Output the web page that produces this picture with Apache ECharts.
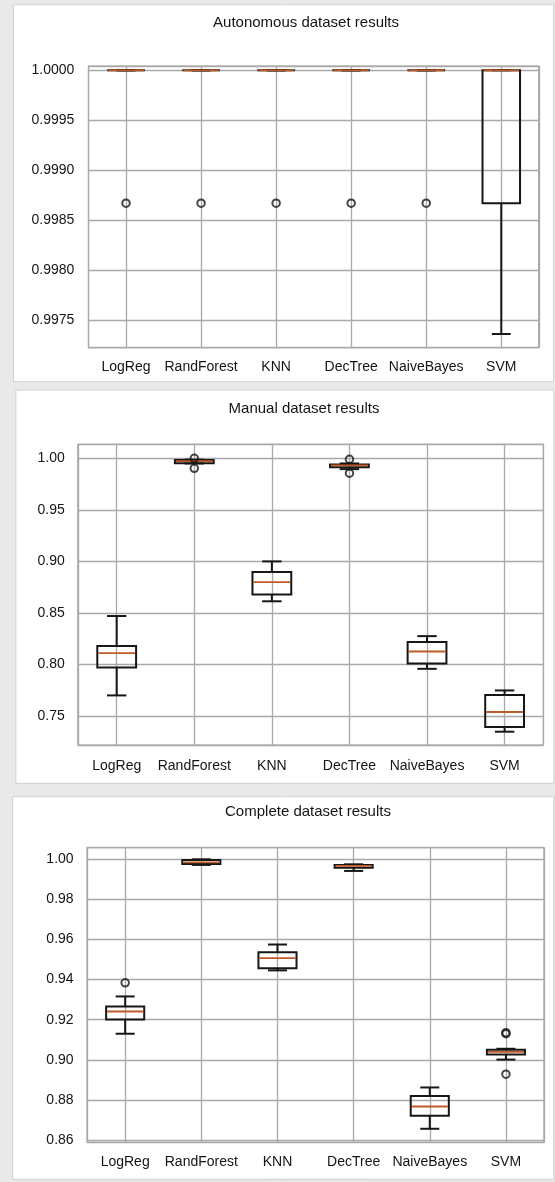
<!DOCTYPE html>
<html>
<head>
<meta charset="utf-8">
<script src="https://cdn.jsdelivr.net/npm/echarts@6/dist/echarts.min.js"></script>
<style>
  html, body { margin: 0; padding: 0; background: #e9e9e9; }
  #chart { width: 555px; height: 1182px; }
</style>
</head>
<body>
<div id="chart"></div>
<script>
// ---- data ----
const categories = ['LogReg', 'RandForest', 'KNN', 'DecTree', 'NaiveBayes', 'SVM'];
const panelTitles = ['Autonomous dataset results', 'Manual dataset results', 'Complete dataset results'];

// each box: [lower whisker, Q1, median, Q3, upper whisker]
const autonomousBoxes = [
  [1.0, 1.0, 1.0, 1.0, 1.0],
  [1.0, 1.0, 1.0, 1.0, 1.0],
  [1.0, 1.0, 1.0, 1.0, 1.0],
  [1.0, 1.0, 1.0, 1.0, 1.0],
  [1.0, 1.0, 1.0, 1.0, 1.0],
  [0.99736, 0.99867, 1.0, 1.0, 1.0]
];
const autonomousOutliers = [[0, 0.99867], [1, 0.99867], [2, 0.99867], [3, 0.99867], [4, 0.99867]];

const manualBoxes = [
  [0.770, 0.797, 0.811, 0.818, 0.847],
  [0.9950, 0.9953, 0.9972, 0.9983, 0.9987],
  [0.8613, 0.8680, 0.8799, 0.8896, 0.9000],
  [0.9895, 0.9912, 0.9932, 0.9940, 0.9950],
  [0.7958, 0.8010, 0.8126, 0.8217, 0.8275],
  [0.7348, 0.7393, 0.7539, 0.7704, 0.7748]
];
const manualOutliers = [[1, 1.0], [1, 0.9903], [3, 0.999], [3, 0.9855]];

const completeBoxes = [
  [0.9130, 0.9201, 0.9241, 0.9266, 0.9316],
  [0.9972, 0.9977, 0.9985, 0.9997, 1.0],
  [0.9446, 0.9456, 0.9507, 0.9537, 0.9575],
  [0.9942, 0.9958, 0.9967, 0.9972, 0.9975],
  [0.8656, 0.8721, 0.8767, 0.8820, 0.8862],
  [0.9001, 0.9026, 0.9040, 0.9050, 0.9055]
];
const completeOutliers = [[0, 0.9384], [5, 0.9135], [5, 0.9130], [5, 0.8928]];

// axis ranges and tick steps
const yRanges = [[0.997223, 1.000043], [0.7219, 1.01358], [0.85885, 1.00579]];
const yTickSteps = [0.0005, 0.05, 0.02];
const yDecimals = [4, 2, 2];

// ---- layout ----
const cards = [
  { x: 13.5, y: 4.7, w: 540, h: 377 },
  { x: 15.9, y: 390, w: 538, h: 393.3 },
  { x: 12.7, y: 796.7, w: 541, h: 382.6 }
];
const grids = [
  { left: 88.5, top: 66, width: 450.3, height: 281.7 },
  { left: 77.9, top: 444.3, width: 465.5, height: 300.7 },
  { left: 87.1, top: 847.7, width: 456.9, height: 294.6 }
];
const titlePos = [[306, 23.3], [304, 409], [308, 812.3]];
const xLabelMargin = [12, 14, 12.5];
const yLabelMargin = [14.2, 13.1, 13.5];

const FONT = '"Liberation Sans", Arial, sans-serif';
const TEXT = '#141414';
const GRIDC = '#a9a9a9';
const BOXC = '#161616';
const MEDC = '#c05a26';

const allBoxes = [autonomousBoxes, manualBoxes, completeBoxes];
const allOutliers = [autonomousOutliers, manualOutliers, completeOutliers];

function renderBox(params, api) {
  const i = api.value(0);
  const lo = api.coord([i, api.value(1)]);
  const q1 = api.coord([i, api.value(2)]);
  const md = api.coord([i, api.value(3)]);
  const q3 = api.coord([i, api.value(4)]);
  const hi = api.coord([i, api.value(5)]);
  const w = api.size([1, 0])[0] * 0.5;
  const cx = lo[0];
  const ls = { stroke: BOXC, lineWidth: 2, fill: null };
  return {
    type: 'group',
    children: [
      { type: 'line', shape: { x1: cx, y1: q3[1], x2: cx, y2: hi[1] }, style: ls },
      { type: 'line', shape: { x1: cx, y1: q1[1], x2: cx, y2: lo[1] }, style: ls },
      { type: 'line', shape: { x1: cx - w / 4, y1: hi[1], x2: cx + w / 4, y2: hi[1] }, style: ls },
      { type: 'line', shape: { x1: cx - w / 4, y1: lo[1], x2: cx + w / 4, y2: lo[1] }, style: ls },
      { type: 'rect', shape: { x: cx - w / 2, y: q3[1], width: w, height: q1[1] - q3[1] }, style: ls },
      { type: 'line', shape: { x1: cx - w / 2 + 1, y1: md[1], x2: cx + w / 2 - 1, y2: md[1] }, style: { stroke: MEDC, lineWidth: 1.8 } }
    ]
  };
}

const option = {
  animation: false,
  backgroundColor: '#e9e9e9',
  graphic: [],
  grid: [],
  xAxis: [],
  yAxis: [],
  series: []
};

cards.forEach(c => {
  option.graphic.push({
    type: 'rect', z: -10, silent: true,
    shape: { x: c.x, y: c.y, width: c.w, height: c.h },
    style: { fill: '#ffffff', stroke: '#d0d0d0', lineWidth: 1 }
  });
});
panelTitles.forEach((t, k) => {
  option.graphic.push({
    type: 'text', silent: true,
    x: titlePos[k][0], y: titlePos[k][1],
    style: { text: t, font: '15px ' + FONT, fill: TEXT, align: 'center', verticalAlign: 'middle' }
  });
});

for (let k = 0; k < 3; k++) {
  option.grid.push(Object.assign({ show: true, borderColor: '#9a9a9a', borderWidth: 1.2, backgroundColor: 'transparent', containLabel: false }, grids[k]));
  option.xAxis.push({
    type: 'value', gridIndex: k, min: -0.5, max: categories.length - 0.5,
    minInterval: 1, maxInterval: 1,
    axisLine: { show: false }, axisTick: { show: false },
    splitLine: { show: true, lineStyle: { color: GRIDC, width: 1.3 } },
    axisLabel: {
      showMinLabel: false, showMaxLabel: false,
      margin: xLabelMargin[k], color: TEXT, fontSize: 14, fontFamily: FONT,
      formatter: v => (Number.isInteger(v) && categories[v] !== undefined) ? categories[v] : ''
    }
  });
  const step = yTickSteps[k], dec = yDecimals[k];
  option.yAxis.push({
    type: 'value', gridIndex: k, min: yRanges[k][0], max: yRanges[k][1],
    minInterval: step, maxInterval: step, scale: true,
    axisLine: { show: false }, axisTick: { show: false },
    splitLine: { show: true, lineStyle: { color: GRIDC, width: 1.3 } },
    axisLabel: {
      showMinLabel: false, showMaxLabel: false,
      margin: yLabelMargin[k], color: TEXT, fontSize: 14, fontFamily: FONT,
      formatter: v => v.toFixed(dec)
    }
  });
  option.series.push({
    type: 'custom', xAxisIndex: k, yAxisIndex: k,
    renderItem: renderBox,
    encode: { x: 0, y: [1, 2, 3, 4, 5] },
    data: allBoxes[k].map((b, i) => [i].concat(b)),
    clip: false, silent: true, z: 3
  });
  option.series.push({
    type: 'scatter', xAxisIndex: k, yAxisIndex: k,
    data: allOutliers[k],
    symbol: 'circle', symbolSize: 7.5,
    itemStyle: { color: 'rgba(255,255,255,0)', borderColor: BOXC, borderWidth: 2 },
    silent: true, z: 4
  });
}

const chart = echarts.init(document.getElementById('chart'), null, { renderer: 'canvas' });
chart.setOption(option);
</script>
</body>
</html>
